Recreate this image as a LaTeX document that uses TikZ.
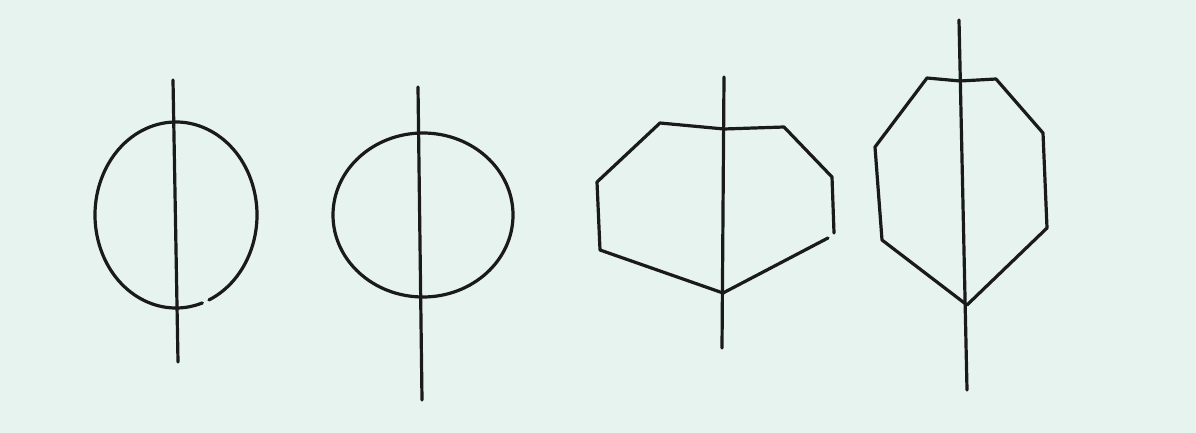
\documentclass[tikz,border=0pt]{standalone}
\definecolor{paper}{HTML}{E7F3EE}
\definecolor{ink}{HTML}{1A1A1A}
\tikzset{
  stroke/.style={draw=ink, line width=3.2pt, line join=round, line cap=round},
  axisline/.style={draw=ink, line width=3.2pt, line cap=round}
}
\begin{document}
\begin{tikzpicture}[x=1pt,y=-1pt]
\fill[paper] (0,0) rectangle (1196,433);
\useasboundingbox (0,0) rectangle (1196,433);

% figure 1: tall oval with small gap at the bottom
\coordinate (c1) at (176,215);
\coordinate (a1t) at (173,80);
\coordinate (a1b) at (178,362);
\draw[stroke] (c1) ++(71:81 and 93) arc[start angle=71, end angle=426, x radius=81, y radius=93];
\draw[axisline] (a1t) -- (a1b);

% figure 2: wide oval
\coordinate (c2) at (423,215);
\coordinate (a2t) at (418,87);
\coordinate (a2b) at (422,400);
\draw[stroke] (c2) ellipse[x radius=90, y radius=82];
\draw[axisline] (a2t) -- (a2b);

% figure 3: polygon, open at right
\coordinate (a3t) at (724,77);
\coordinate (a3b) at (722,348);
\draw[stroke] (834,233) -- (832,177) -- (784,127) -- (724,129) -- (660,123)
  -- (597,182) -- (600,250) -- (723,293) -- (828,238);
\draw[axisline] (a3t) -- (a3b);

% figure 4: closed polygon
\coordinate (a4t) at (959,20);
\coordinate (a4b) at (967,390);
\draw[stroke] (927,78) -- (960,81) -- (996,79) -- (1043,133) -- (1047,228)
  -- (967,305) -- (882,240) -- (875,147) -- cycle;
\draw[axisline] (a4t) -- (a4b);
\end{tikzpicture}
\end{document}
